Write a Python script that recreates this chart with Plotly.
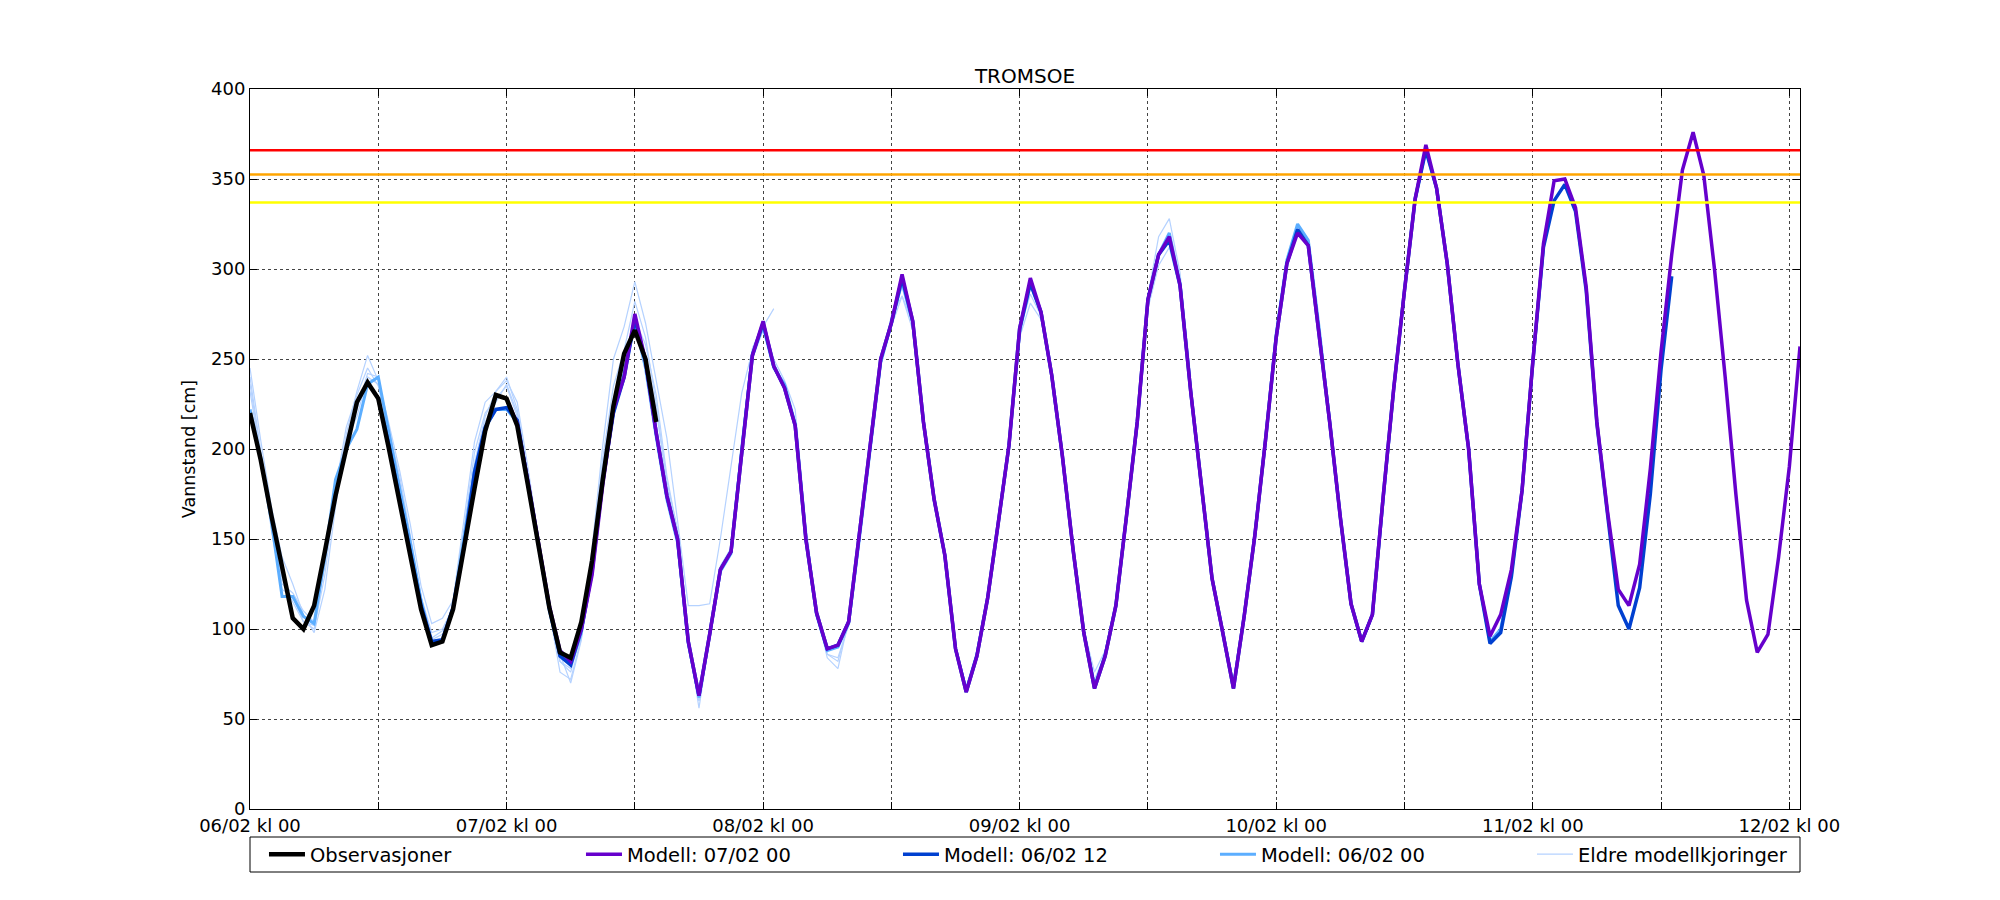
import plotly.graph_objects as go

# ---------------- data (hours after 06/02 kl 00, hourly values in cm) ----------------
OBS_START = 0
OBS = [220, 194, 163, 133, 106, 100, 113, 143, 174, 200, 226, 237, 228, 200, 170, 141,
       111, 91, 93, 111, 146, 178, 210, 230, 228, 213, 180, 147, 112, 87, 84, 104,
       138, 183, 224, 253, 266, 250, 215]

M0700_START = 24
M0700 = [228, 214, 182, 148, 113, 88, 82, 100, 130, 180, 222, 240,
         275, 249, 209, 174, 150, 93, 63, 97, 133, 143, 198, 252,
         271, 246, 234, 213, 150, 109, 89, 91, 104, 152, 203, 250,
         270, 297, 271, 215, 172, 141, 89, 65, 85, 117, 159, 202,
         267, 295, 276, 241, 196, 144, 98, 67, 85, 113, 163, 215,
         283, 308, 318, 291, 232, 180, 128, 98, 67, 107, 152, 205,
         262, 303, 320, 313, 265, 215, 162, 114, 93, 108, 173, 234,
         288, 339, 369, 345, 303, 247, 200, 125, 96, 108, 133, 177,
         248, 314, 349, 350, 334, 290, 215, 165, 122, 113, 136, 189,
         254, 308, 355, 376, 352, 300, 240, 175, 116, 87, 97, 140,
         190, 257]

M0612_START = 12
M0612 = [228, 202, 172, 143, 113, 93, 94, 112, 145, 187, 212, 222,
         223, 216, 182, 148, 112, 85, 80, 100, 132, 182, 220, 240,
         272, 249, 209, 174, 150, 93, 63, 97, 133, 143, 198, 252,
         270, 246, 234, 213, 150, 109, 89, 91, 104, 152, 203, 250,
         270, 295, 271, 215, 172, 141, 89, 65, 85, 117, 159, 202,
         267, 292, 276, 241, 196, 144, 98, 67, 85, 113, 163, 215,
         283, 308, 316, 291, 232, 180, 128, 98, 67, 107, 152, 205,
         262, 303, 322, 313, 265, 215, 162, 114, 93, 108, 173, 234,
         288, 339, 366, 345, 303, 247, 200, 125, 92, 98, 129, 177,
         248, 312, 338, 347, 332, 288, 214, 165, 113, 100, 123, 175,
         244, 296]

M0600_START = 0
M0600 = [222, 195, 160, 118, 118, 107, 103, 140, 183, 200, 211, 236,
         240, 208, 178, 148, 116, 92, 93, 112, 150, 188, 212, 222,
         222, 215, 182, 147, 110, 86, 80, 98, 132, 184, 220, 242,
         270, 245, 207, 172, 148, 92, 62, 97, 132, 142, 200, 253,
         268, 245, 236, 214, 150, 108, 88, 90, 103, 150, 200, 248,
         270, 293, 270, 215, 172, 141, 89, 66, 86, 117, 159, 202,
         265, 292, 276, 241, 196, 144, 98, 68, 86, 113, 163, 215,
         283, 308, 320, 292, 232, 180, 128, 98, 68, 107, 152, 205,
         264, 305, 325, 316, 268, 215, 162, 114, 93, 108, 173, 234,
         288, 339, 366, 345, 303, 247, 200, 125, 93, 100, 130, 177,
         248, 312]

ELDRE_START = 0
ELDRE_1 = [245, 205, 168, 140, 125, 108, 98, 122, 168, 208, 232, 252,
           238, 214, 188, 158, 124, 103, 106, 116, 160, 204, 226, 232,
           238, 226, 190, 150, 114, 86, 70, 94, 145, 202, 250, 268,
           293, 270, 238, 206, 160, 113, 113, 114, 150, 190, 231, 255,
           268, 278]
ELDRE_2 = [240, 200, 158, 125, 120, 110, 104, 135, 178, 212, 230, 245,
           235, 210, 185, 152, 118, 98, 100, 112, 155, 198, 220, 228,
           235, 218, 185, 148, 110, 76, 72, 95, 140, 195, 235, 255,
           282, 262, 225, 182, 155, 95, 56, 95, 135, 145, 205, 256,
           270, 250, 238, 222, 158, 110, 84, 78, 105, 150, 200, 248,
           274, 285, 266, 218, 175, 140, 88, 66, 84, 116, 158, 200,
           262]
ELDRE_3 = [236, 198, 155, 122, 118, 104, 100, 130, 175, 205, 218, 240,
           236, 212, 182, 150, 116, 94, 97, 110, 150, 192, 218, 232,
           240, 222, 186, 150, 112, 82, 76, 98, 142, 192, 228, 250,
           272, 258, 230, 185, 154, 96, 60, 96, 133, 143, 200, 254,
           270, 248, 236, 216, 152, 108, 86, 82, 104, 152, 202, 250,
           272, 290, 268, 214, 172, 140, 90, 68, 86, 117, 160, 202,
           266, 286, 274, 240, 196, 145, 100, 72, 86, 113, 165, 218,
           285, 318, 328, 298, 240]
ELDRE_4 = [232, 196, 160, 128, 115, 104, 102, 138, 180, 206, 222, 242,
           240, 206, 178, 148, 114, 95, 99, 112, 152, 190, 215, 226,
           236, 220, 184, 148, 111, 82, 78, 96, 140, 190, 225, 246,
           268, 250, 222, 180, 152, 94, 60, 96, 133, 143, 198, 250,
           266, 246, 234, 212, 150, 108, 86, 84, 102, 148, 198, 246,
           268, 285, 270, 215, 172, 140, 90, 67, 86, 116, 158, 200,
           262, 281, 272, 240, 198, 146, 100, 76, 88, 114, 162, 210,
           278, 302, 312, 288, 232, 180, 130, 100, 70, 108, 150, 204,
           258]
ELDRE = [ELDRE_1, ELDRE_2, ELDRE_3, ELDRE_4]

THRESHOLDS = [366, 352.5, 337]          # red, orange, yellow warning levels
THRESHOLD_COLORS = ["#ff0000", "#ffa500", "#ffff00"]

TICK_HOURS = list(range(0, 145, 12))
TICK_LABELS = ["06/02 kl 00", "", "07/02 kl 00", "", "08/02 kl 00", "",
               "09/02 kl 00", "", "10/02 kl 00", "", "11/02 kl 00", "",
               "12/02 kl 00"]
Y_TICKS = list(range(0, 401, 50))


def hours(start, values):
    return [start + i for i in range(len(values))]


fig = go.Figure()

# older model runs (thin, pale)
for i, e in enumerate(ELDRE):
    fig.add_trace(go.Scatter(
        x=hours(ELDRE_START, e), y=e, mode="lines",
        line=dict(color="#b5d2ff", width=1.2),
        name="Eldre modellkjoringer", legendgroup="eldre",
        showlegend=(i == 0), legendrank=5))

fig.add_trace(go.Scatter(x=hours(M0600_START, M0600), y=M0600, mode="lines",
                         line=dict(color="#5caeff", width=3),
                         name="Modell: 06/02 00", legendrank=4))
fig.add_trace(go.Scatter(x=hours(M0612_START, M0612), y=M0612, mode="lines",
                         line=dict(color="#0040d0", width=3.5),
                         name="Modell: 06/02 12", legendrank=3))
fig.add_trace(go.Scatter(x=hours(M0700_START, M0700), y=M0700, mode="lines",
                         line=dict(color="#6600cc", width=3.5),
                         name="Modell: 07/02 00", legendrank=2))
fig.add_trace(go.Scatter(x=hours(OBS_START, OBS), y=OBS, mode="lines",
                         line=dict(color="#000000", width=4.5),
                         name="Observasjoner", legendrank=1))

for val, col in zip(THRESHOLDS, THRESHOLD_COLORS):
    fig.add_shape(type="line", xref="paper", x0=0, x1=1, yref="y", y0=val, y1=val,
                  line=dict(color=col, width=2.5), layer="above")

# frame around the legend row (same width as the plot area)
fig.add_shape(type="rect", xref="paper", yref="paper", x0=0, x1=1,
              y0=-0.0389, y1=-0.0875, line=dict(color="black", width=1),
              fillcolor="rgba(0,0,0,0)", layer="above")

axis_common = dict(showline=True, linecolor="black", linewidth=1, mirror="allticks",
                   ticks="inside", ticklen=7, tickcolor="black",
                   showgrid=True, gridcolor="#444444", gridwidth=1, griddash="dot",
                   zeroline=False, tickfont=dict(size=18, color="black"))

fig.update_xaxes(range=[0, 145], tickmode="array", tickvals=TICK_HOURS,
                 ticktext=TICK_LABELS, **axis_common)
fig.update_yaxes(range=[0, 400], tickmode="array", tickvals=Y_TICKS,
                 title=dict(text="Vannstand [cm]", font=dict(size=17.5, color="black"),
                            standoff=10),
                 **axis_common)

fig.update_layout(
    width=2000, height=900,
    paper_bgcolor="white", plot_bgcolor="white",
    font=dict(family="DejaVu Sans", color="black"),
    margin=dict(l=242, r=208, t=81, b=99),
    title=dict(text="TROMSOE", x=0.5, xref="paper", xanchor="center",
               y=0.9239, yref="container", yanchor="middle",
               font=dict(size=20, color="black")),
    legend=dict(orientation="h", x=1.0316, xanchor="right", y=-0.0632, yanchor="middle",
                borderwidth=0, bgcolor="rgba(0,0,0,0)",
                font=dict(size=19.5, color="black"),
                itemwidth=36,
                entrywidth=266, entrywidthmode="pixels",
                traceorder="normal"),
    showlegend=True,
)

fig.write_html("out.html")
